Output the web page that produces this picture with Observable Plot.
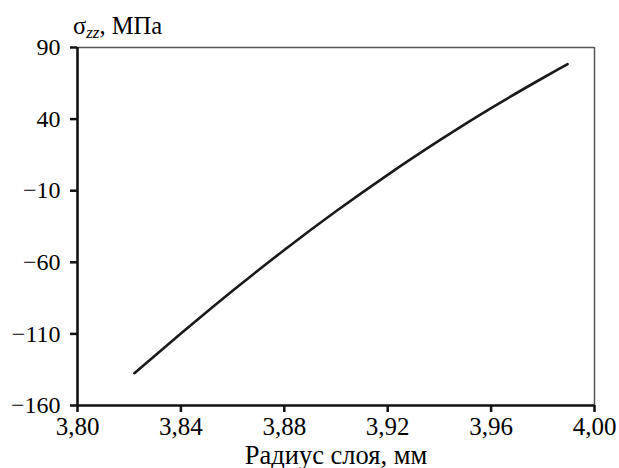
<!DOCTYPE html>
<html>
<head>
<meta charset="utf-8">
<script src="https://cdn.jsdelivr.net/npm/d3@7"></script>
<script src="https://cdn.jsdelivr.net/npm/@observablehq/plot@0.6"></script>
<style>
  html, body { margin: 0; padding: 0; background: #fff; }
</style>
</head>
<body>
<div id="chart"></div>
<script>
// Data
const radius = [3.822, 3.84, 3.86, 3.88, 3.90, 3.92, 3.94, 3.96, 3.98, 3.9896];
const stress = [-137.4, -109.8, -79.9, -51.4, -24.4, 1.1, 25.1, 47.7, 68.7, 78.4];
const xTicks = [3.80, 3.84, 3.88, 3.92, 3.96, 4.00];
const yTicks = [-160, -110, -60, -10, 40, 90];
const xLabel = "Радиус слоя, мм";
const yLabelMain = "σ";
const yLabelSub = "zz";
const yLabelUnit = ", МПа";

// pick an installed serif face (measuring also makes the face load before drawing)
const candidates = ["Liberation Serif", "DejaVu Serif", "serif"];
const ctx = document.createElement("canvas").getContext("2d");
const probe = "Радиус 3,80 МПа σ";
function w(f) { ctx.font = "40px " + f; return ctx.measureText(probe).width; }
const found = candidates.filter(c => w("'" + c + "', monospace") === w("'" + c + "', sans-serif"));
const FONT = (found.length ? "'" + found[0] + "', " : "") + "serif";

const data = radius.map((r, i) => ({r, s: stress[i]}));
const fmtX = d => d.toFixed(2).replace(".", ",");
const fmtY = d => d < 0 ? "\u2212" + Math.abs(d) : String(d);

const chart = Plot.plot({
  width: 619,
  height: 468,
  marginLeft: 77,
  marginRight: 25,
  marginTop: 47,
  marginBottom: 63,
  style: {fontFamily: FONT, fontSize: "24px", color: "#000", background: "#fff"},
  x: {domain: [3.80, 4.00]},
  y: {domain: [-160, 90]},
  marks: [
    Plot.ruleY([90], {stroke: "#555", strokeWidth: 1.5}),
    Plot.ruleX([4.00], {stroke: "#555", strokeWidth: 1.5}),
    Plot.line(data, {x: "r", y: "s", stroke: "#1a1a1a", strokeWidth: 2.6, curve: "natural"}),
    Plot.axisX({ticks: xTicks, tickFormat: fmtX, tickSize: 7, tickPadding: 5, strokeWidth: 2.5, stroke: "#111", fill: "#000", label: null, fontSize: 25, fontFamily: FONT}),
    Plot.axisY({ticks: yTicks, tickFormat: fmtY, tickSize: 7, tickPadding: 10, strokeWidth: 2.5, stroke: "#111", fill: "#000", label: null, fontSize: 24, fontFamily: FONT}),
    Plot.ruleY([-160], {stroke: "#111", strokeWidth: 2.6}),
    Plot.ruleX([3.80], {stroke: "#111", strokeWidth: 2.6}),
    Plot.text([xLabel], {frameAnchor: "bottom", dy: 58, lineAnchor: "bottom", fontSize: 26.5, fontFamily: FONT, fill: "#000"})
  ]
});

const svg = d3.select(chart);
const t = svg.append("text")
  .attr("x", 73)
  .attr("y", 34)
  .attr("fill", "#000")
  .attr("text-anchor", "start")
  .style("font-family", FONT)
  .style("font-size", "24.5px");
t.append("tspan").text(yLabelMain);
t.append("tspan").attr("dy", 4).style("font-size", "17px").style("font-style", "italic").text(yLabelSub);
t.append("tspan").attr("dy", -4).text(yLabelUnit);

document.getElementById("chart").appendChild(chart);
</script>
</body>
</html>
